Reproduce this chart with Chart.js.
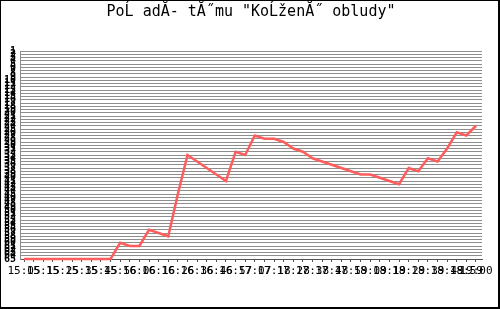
<!DOCTYPE html>
<html>
<head>
<meta charset="utf-8">
<script src="https://cdn.jsdelivr.net/npm/chart.js@4"></script>
<style>
  html, body { margin: 0; padding: 0; background: #fff; }
  #frame {
    box-sizing: border-box;
    width: 500px; height: 309px;
    border-top: 1px solid #000; border-left: 1px solid #000;
    border-right: 2px solid #000; border-bottom: 2px solid #000;
  }
  canvas { display: block; }
</style>
</head>
<body>
<div id="frame"><canvas id="rankChart" width="497" height="306"></canvas></div>
<script>
// Nazev grafu (tak jak je v obrazku, se spatnym kodovanim)
const chartTitle = 'PoĹ adĂ- tĂ˝mu "KoĹženĂ˝ obludy"';

// Poradi tymu v kazdem vzorku (1 = nahore)
const ranks = [
    65, 65, 65, 65, 65, 65, 65, 65, 65, 65,
    60, 61, 61, 56, 57, 58, 45, 33, 35, 37,
    39, 41, 32, 33, 27, 28, 28, 29, 31, 32,
    34, 35, 36, 37, 38, 39, 39, 40, 41, 42,
    37, 38, 34, 35, 31, 26, 27, 24
];

// Popisky osy X a vzorky, u kterych stoji
const tickIdx = [0, 2, 4, 6, 8, 10, 12, 14, 16, 18, 20, 22, 24,
                 26, 28, 30, 32, 34, 36, 38, 40, 42, 44, 46, 47];
const tickLabels = ['15:05', '15:15', '15:25', '15:35', '15:45', '15:56',
                    '16:06', '16:16', '16:26', '16:36', '16:46', '16:57',
                    '17:07', '17:18', '17:28', '17:38', '17:48', '17:59',
                    '18:09', '18:19', '18:29', '18:39', '18:49', '18:59', '19:00'];

// Rozsah osy Y (pocet tymu)
const rankMin = 1;
const rankMax = 65;

const points = ranks.map((r, i) => ({ x: i, y: r }));

const ctx = document.getElementById('rankChart').getContext('2d');
const rankChart = new Chart(ctx, {
    type: 'line',
    data: {
        datasets: [{
            label: 'Poradi',
            data: points,
            borderColor: '#ff5c5c',
            borderWidth: 2.5,
            pointRadius: 0,
            tension: 0,
            fill: false,
            clip: false
        }]
    },
    options: {
        responsive: false,
        animation: false,
        devicePixelRatio: 1,
        layout: { padding: { left: 0, right: 16, top: 0, bottom: 0 } },
        plugins: {
            legend: { display: false },
            tooltip: { enabled: false },
            title: {
                display: true,
                fullSize: false,
                text: chartTitle,
                color: '#000',
                font: { family: 'DejaVu Sans Mono', size: 15, weight: 'normal', lineHeight: 1.2 },
                padding: { top: 2, bottom: 30 }
            }
        },
        scales: {
            x: {
                type: 'linear',
                min: -0.417,
                max: 47.625,
                afterBuildTicks: scale => {
                    scale.ticks = ranks.map((r, i) => ({ value: i }));
                },
                afterFit: scale => { scale.height = 48; },
                grid: {
                    drawOnChartArea: false,
                    drawTicks: true,
                    tickLength: 3,
                    color: '#555'
                },
                border: { display: true, color: '#555' },
                ticks: {
                    autoSkip: false,
                    maxRotation: 0,
                    minRotation: 0,
                    padding: 3,
                    color: '#000',
                    font: { family: 'DejaVu Sans Mono', size: 11 },
                    callback: value => {
                        const k = tickIdx.indexOf(value);
                        return k >= 0 ? tickLabels[k] : '';
                    }
                }
            },
            y: {
                reverse: true,
                min: rankMin,
                max: rankMax,
                afterFit: scale => { scale.width = 19; },
                grid: {
                    color: '#8e8e8e',
                    lineWidth: 1,
                    drawTicks: false
                },
                border: { display: true, color: '#8e8e8e' },
                ticks: {
                    stepSize: 1,
                    autoSkip: false,
                    padding: 4,
                    color: '#000',
                    font: { family: 'DejaVu Sans Mono', size: 10, weight: 'bold' }
                }
            }
        }
    }
});
</script>
</body>
</html>
